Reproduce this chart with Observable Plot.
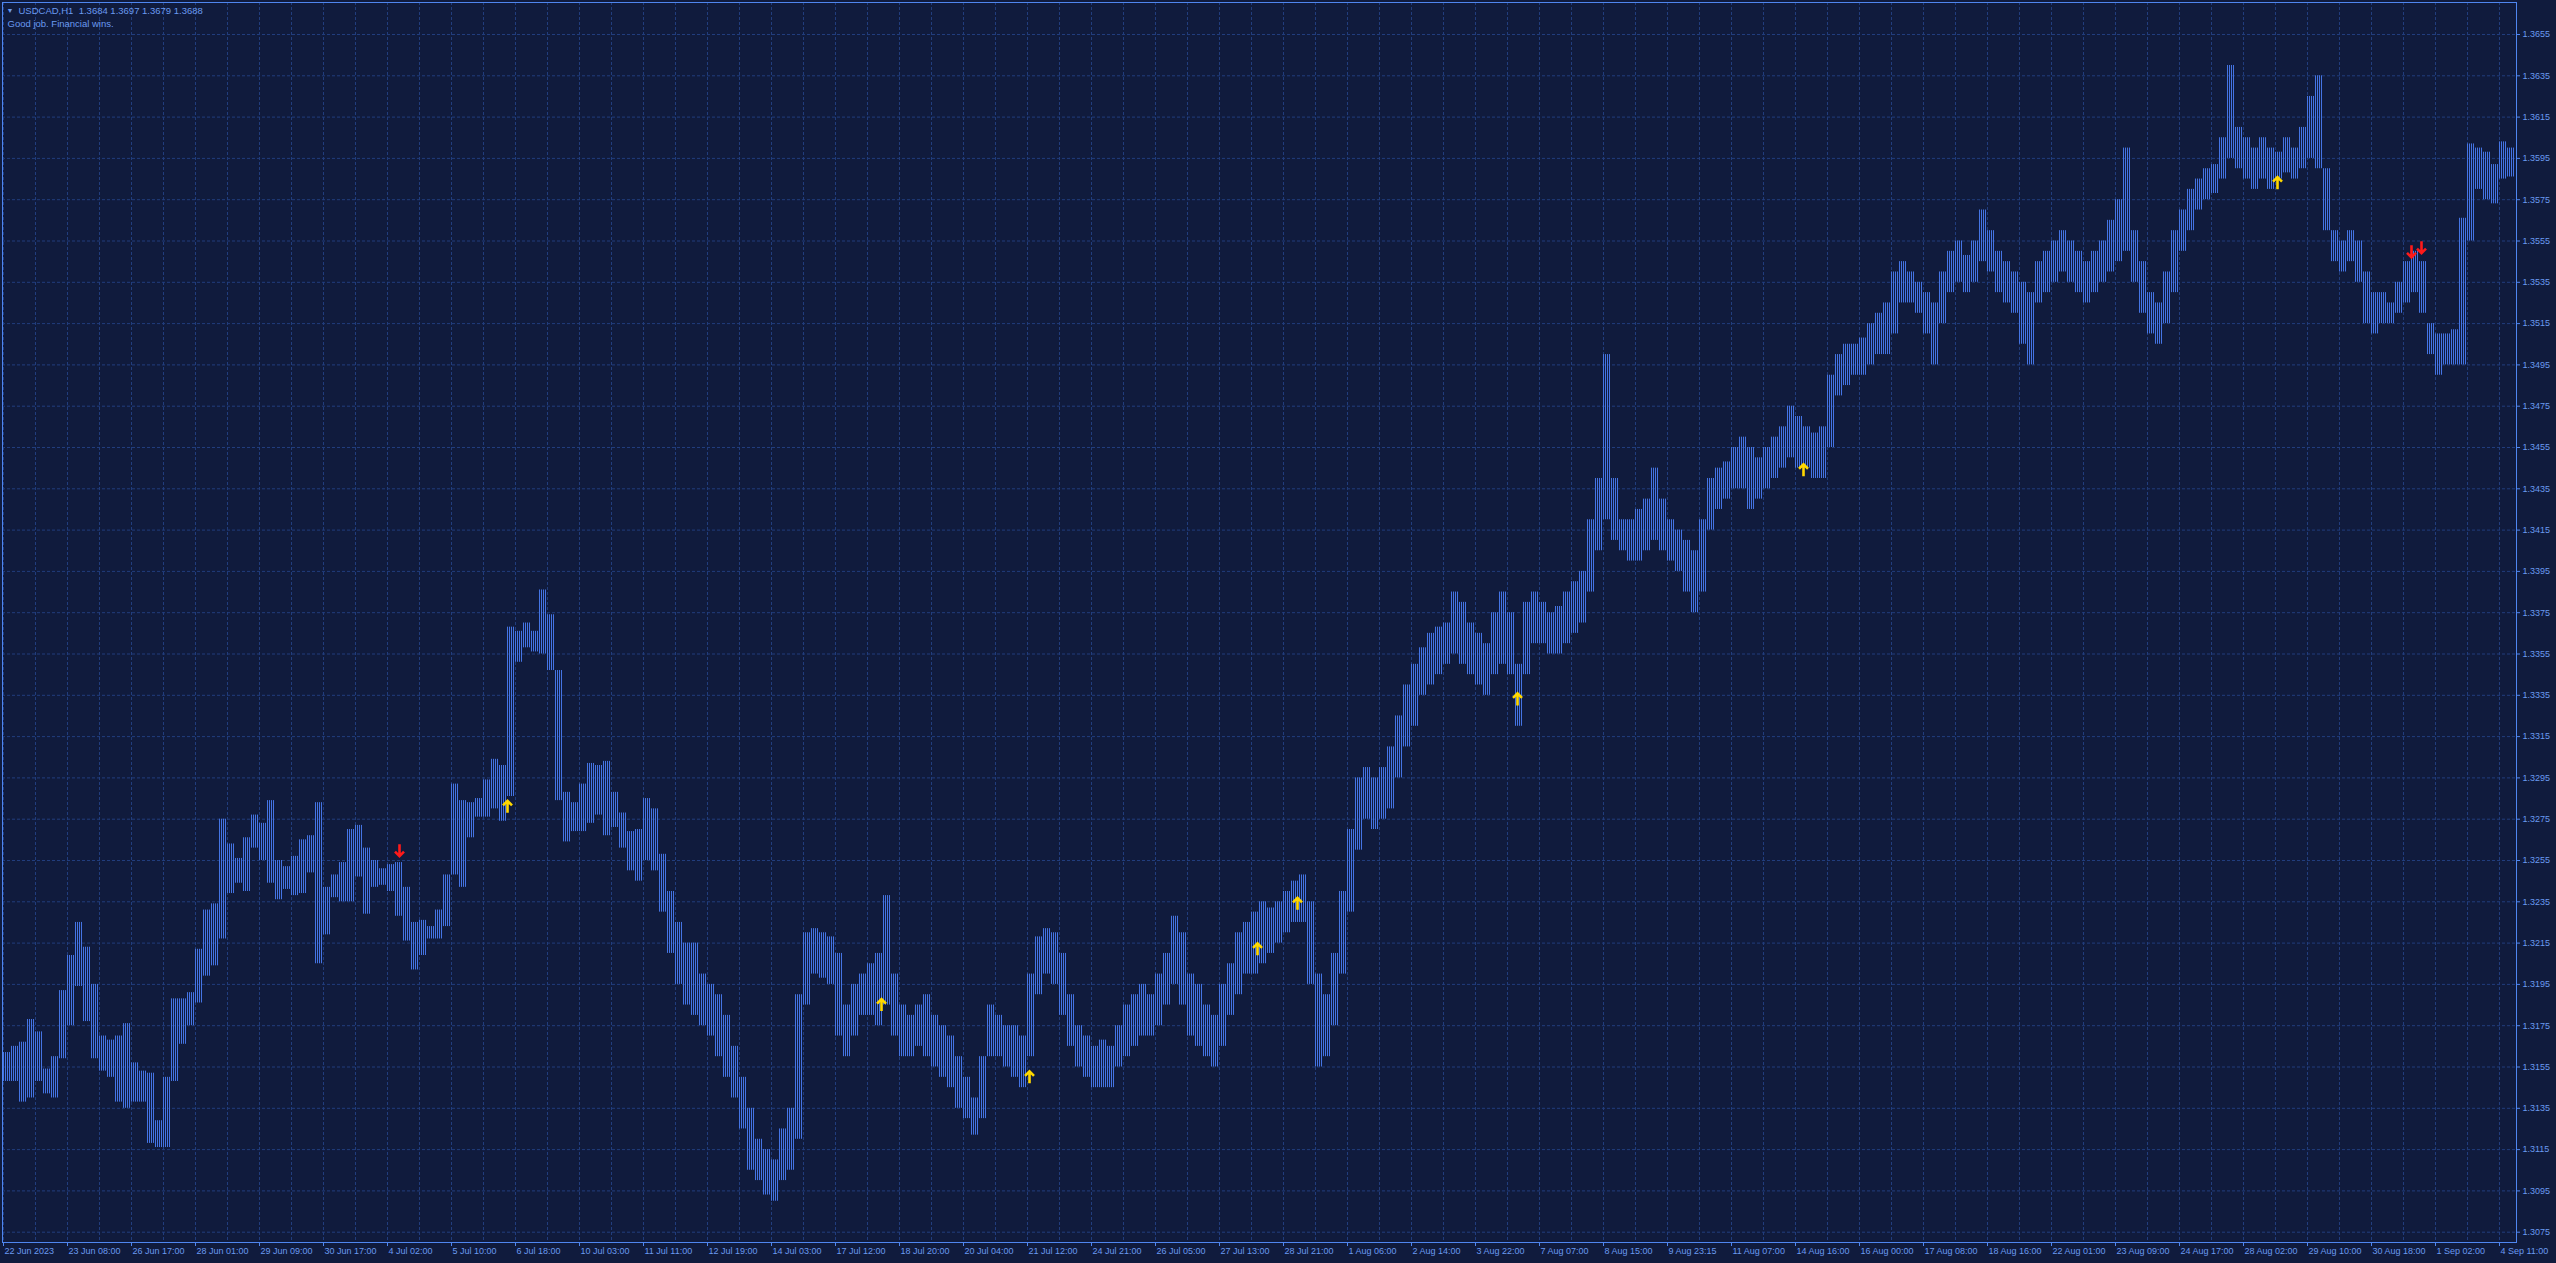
<!DOCTYPE html>
<html><head><meta charset="utf-8">
<script src="https://cdn.jsdelivr.net/npm/d3@7"></script>
<script src="https://cdn.jsdelivr.net/npm/@observablehq/plot@0.6"></script>
<style>
html,body{margin:0;padding:0;background:#101b3d;overflow:hidden;}
#chart{width:2556px;height:1263px;}
</style></head><body><div id="chart"></div>
<script>
// ---- data ----
const symbolTitle = "USDCAD,H1  1.3684 1.3697 1.3679 1.3688";
const subtitle = "Good job. Financial wins.";
const barsPerGroup = 4; // each entry = high/low of 4 consecutive H1 bars

const high = [
1.3162,1.3165,1.3167,1.3178,1.3172,1.3154,1.3160,1.3192,1.3209,1.3225,1.3213,1.3195,1.3170,1.3168,1.3170,1.3176,1.3157,1.3153,1.3152,1.3129,
1.3150,1.3188,1.3188,1.3191,1.3212,1.3231,1.3234,1.3275,1.3263,1.3256,1.3266,1.3277,1.3273,1.3284,1.3255,1.3252,1.3257,1.3265,1.3267,1.3283,
1.3242,1.3248,1.3254,1.3270,1.3272,1.3261,1.3255,1.3251,1.3253,1.3254,1.3242,1.3225,1.3226,1.3223,1.3231,1.3248,1.3292,1.3284,1.3283,1.3285,
1.3294,1.3304,1.3301,1.3368,1.3366,1.3370,1.3366,1.3386,1.3374,1.3347,1.3288,1.3283,1.3292,1.3302,1.3301,1.3303,1.3288,1.3278,1.3269,1.3270,
1.3285,1.3280,1.3258,1.3240,1.3225,1.3215,1.3215,1.3200,1.3195,1.3190,1.3180,1.3165,1.3150,1.3135,1.3120,1.3115,1.3110,1.3125,1.3135,1.3190,
1.3220,1.3222,1.3220,1.3218,1.3210,1.3185,1.3195,1.3200,1.3205,1.3210,1.3238,1.3200,1.3185,1.3180,1.3185,1.3190,1.3180,1.3175,1.3170,1.3160,
1.3150,1.3140,1.3160,1.3185,1.3180,1.3175,1.3175,1.3170,1.3200,1.3218,1.3222,1.3220,1.3210,1.3190,1.3175,1.3170,1.3165,1.3168,1.3165,1.3175,
1.3185,1.3190,1.3195,1.3190,1.3200,1.3210,1.3228,1.3220,1.3200,1.3195,1.3185,1.3180,1.3195,1.3205,1.3220,1.3225,1.3230,1.3235,1.3232,1.3235,
1.3240,1.3245,1.3248,1.3235,1.3200,1.3190,1.3210,1.3240,1.3270,1.3295,1.3300,1.3295,1.3300,1.3310,1.3325,1.3340,1.3350,1.3358,1.3365,1.3368,
1.3370,1.3385,1.3380,1.3370,1.3365,1.3360,1.3375,1.3385,1.3375,1.3350,1.3380,1.3385,1.3380,1.3375,1.3378,1.3385,1.3390,1.3395,1.3420,1.3440,
1.3500,1.3440,1.3420,1.3420,1.3425,1.3430,1.3445,1.3430,1.3420,1.3415,1.3410,1.3405,1.3420,1.3440,1.3445,1.3448,1.3455,1.3460,1.3455,1.3450,
1.3455,1.3460,1.3465,1.3475,1.3470,1.3465,1.3462,1.3465,1.3490,1.3500,1.3505,1.3505,1.3508,1.3515,1.3520,1.3525,1.3540,1.3545,1.3540,1.3535,
1.3530,1.3525,1.3540,1.3550,1.3555,1.3548,1.3555,1.3570,1.3560,1.3550,1.3545,1.3540,1.3535,1.3530,1.3545,1.3550,1.3555,1.3560,1.3555,1.3550,
1.3545,1.3550,1.3555,1.3565,1.3575,1.3600,1.3560,1.3545,1.3530,1.3525,1.3540,1.3560,1.3570,1.3580,1.3585,1.3590,1.3592,1.3605,1.3640,1.3610,
1.3605,1.3600,1.3605,1.3600,1.3598,1.3605,1.3600,1.3610,1.3625,1.3635,1.3590,1.3560,1.3555,1.3560,1.3555,1.3540,1.3530,1.3530,1.3525,1.3535,
1.3545,1.3550,1.3545,1.3515,1.3510,1.3510,1.3512,1.3566,1.3602,1.3600,1.3598,1.3592,1.3603,1.3600
];
const low = [
1.3148,1.3148,1.3138,1.3140,1.3148,1.3142,1.3140,1.3159,1.3175,1.3194,1.3177,1.3159,1.3153,1.3150,1.3138,1.3135,1.3138,1.3138,1.3118,1.3116,
1.3116,1.3148,1.3166,1.3175,1.3186,1.3199,1.3204,1.3217,1.3239,1.3244,1.3240,1.3261,1.3255,1.3244,1.3236,1.3241,1.3238,1.3239,1.3249,1.3205,
1.3219,1.3237,1.3235,1.3235,1.3247,1.3229,1.3242,1.3243,1.3240,1.3228,1.3216,1.3202,1.3209,1.3217,1.3217,1.3223,1.3248,1.3242,1.3266,1.3276,
1.3276,1.3280,1.3274,1.3286,1.3351,1.3358,1.3356,1.3355,1.3347,1.3284,1.3264,1.3269,1.3269,1.3273,1.3277,1.3267,1.3271,1.3261,1.3250,1.3245,
1.3255,1.3250,1.3230,1.3210,1.3195,1.3185,1.3180,1.3175,1.3170,1.3160,1.3150,1.3140,1.3125,1.3105,1.3100,1.3093,1.3090,1.3100,1.3105,1.3120,
1.3185,1.3200,1.3198,1.3195,1.3170,1.3160,1.3170,1.3180,1.3180,1.3175,1.3185,1.3170,1.3160,1.3160,1.3165,1.3160,1.3155,1.3150,1.3145,1.3135,
1.3130,1.3122,1.3130,1.3160,1.3160,1.3155,1.3150,1.3145,1.3160,1.3190,1.3200,1.3195,1.3180,1.3165,1.3155,1.3150,1.3145,1.3145,1.3145,1.3155,
1.3160,1.3165,1.3170,1.3170,1.3175,1.3185,1.3195,1.3185,1.3170,1.3165,1.3160,1.3155,1.3165,1.3180,1.3190,1.3200,1.3200,1.3205,1.3210,1.3215,
1.3220,1.3225,1.3225,1.3195,1.3155,1.3160,1.3175,1.3200,1.3230,1.3260,1.3275,1.3270,1.3275,1.3280,1.3295,1.3310,1.3320,1.3335,1.3340,1.3345,
1.3350,1.3355,1.3350,1.3345,1.3340,1.3335,1.3345,1.3350,1.3345,1.3320,1.3345,1.3360,1.3360,1.3355,1.3355,1.3360,1.3365,1.3370,1.3385,1.3405,
1.3420,1.3410,1.3405,1.3400,1.3400,1.3405,1.3410,1.3405,1.3400,1.3395,1.3385,1.3375,1.3385,1.3415,1.3425,1.3430,1.3435,1.3435,1.3425,1.3430,
1.3435,1.3440,1.3445,1.3450,1.3445,1.3445,1.3440,1.3440,1.3455,1.3480,1.3485,1.3490,1.3490,1.3495,1.3500,1.3500,1.3510,1.3525,1.3525,1.3520,
1.3510,1.3495,1.3515,1.3530,1.3535,1.3530,1.3535,1.3545,1.3540,1.3530,1.3525,1.3520,1.3505,1.3495,1.3525,1.3530,1.3535,1.3540,1.3535,1.3530,
1.3525,1.3530,1.3535,1.3540,1.3545,1.3550,1.3535,1.3520,1.3510,1.3505,1.3515,1.3530,1.3550,1.3560,1.3570,1.3575,1.3578,1.3585,1.3595,1.3590,
1.3585,1.3580,1.3585,1.3580,1.3585,1.3588,1.3585,1.3590,1.3595,1.3590,1.3560,1.3545,1.3540,1.3545,1.3535,1.3515,1.3510,1.3515,1.3515,1.3520,
1.3525,1.3530,1.3520,1.3500,1.3490,1.3495,1.3495,1.3495,1.3555,1.3580,1.3575,1.3573,1.3585,1.3586
];

const xLabels = ["22 Jun 2023","23 Jun 08:00","26 Jun 17:00","28 Jun 01:00","29 Jun 09:00","30 Jun 17:00","4 Jul 02:00","5 Jul 10:00",
"6 Jul 18:00","10 Jul 03:00","11 Jul 11:00","12 Jul 19:00","14 Jul 03:00","17 Jul 12:00","18 Jul 20:00","20 Jul 04:00","21 Jul 12:00",
"24 Jul 21:00","26 Jul 05:00","27 Jul 13:00","28 Jul 21:00","1 Aug 06:00","2 Aug 14:00","3 Aug 22:00","7 Aug 07:00","8 Aug 15:00",
"9 Aug 23:15","11 Aug 07:00","14 Aug 16:00","16 Aug 00:00","17 Aug 08:00","18 Aug 16:00","22 Aug 01:00","23 Aug 09:00","24 Aug 17:00",
"28 Aug 02:00","29 Aug 10:00","30 Aug 18:00","1 Sep 02:00","4 Sep 11:00"];
const barsPerLabel = 32;
const yTicks = [1.3075,1.3095,1.3115,1.3135,1.3155,1.3175,1.3195,1.3215,1.3235,1.3255,1.3275,1.3295,1.3315,1.3335,1.3355,
1.3375,1.3395,1.3415,1.3435,1.3455,1.3475,1.3495,1.3515,1.3535,1.3555,1.3575,1.3595,1.3615,1.3635,1.3655];

const arrowBars   = [198, 252, 439, 513, 627, 647, 757, 900, 1137, 1204, 1209];
const arrowPrices = [1.3260, 1.3281, 1.3185, 1.3150, 1.3212, 1.3234, 1.3333, 1.3444, 1.3583, 1.3550, 1.3552];
const arrowDirs   = ["down","up","up","up","up","up","up","up","up","down","down"];

// ---- styling ----
const BG = "#101b3d", GRID = "#213d7d", AXIS = "#4f86f0", TEXT = "#6a9af0", BAR = "#4474e4";
const YELLOW = "#ffd800", RED = "#ff1a1a";

const groups = high.map((h, k) => ({start: k * barsPerGroup, hi: h, lo: low[k]}));
const nBars = groups.length * barsPerGroup;
const labelIdx = xLabels.map((_, i) => i * barsPerLabel);
const vGrid = d3.range(0, nBars, 16);
const arrows = arrowBars.map((b, i) => ({bar: b, price: arrowPrices[i], dir: arrowDirs[i]}));

const arrowShape = {
  draw(context, l, r) {
    context.moveTo(0, 0);
    context.lineTo(0, -l);
    context.moveTo(-r, -l + r);
    context.lineTo(0, -l);
    context.lineTo(r, -l + r);
  }
};

const chart = Plot.plot({
  width: 2556,
  height: 1263,
  marginLeft: 2, marginTop: 2, marginRight: 40, marginBottom: 21,
  style: {background: BG, color: TEXT, fontFamily: "'Liberation Sans', Arial, sans-serif", fontSize: "9px"},
  x: {type: "linear", domain: [0, nBars + 1], range: [3, 3 + 2 * (nBars + 1)], axis: null, label: null},
  y: {type: "linear", domain: [1.3075, 1.3655], range: [1231.7, 34], axis: null, label: null},
  marks: [
    Plot.gridY(yTicks, {stroke: GRID, strokeOpacity: 1, strokeDasharray: "3,2"}),
    Plot.gridX(vGrid, {stroke: GRID, strokeOpacity: 1, strokeDasharray: "3,2"}),
    Plot.rect(groups, {x1: d => d.start - 0.25, x2: d => d.start + barsPerGroup - 0.5, y1: "lo", y2: "hi", fill: "url(#stripes)"}),
    Plot.vector(arrows.filter(d => d.dir === "up"), {x: "bar", y: "price", length: 12, r: 4.5, rotate: 0, anchor: "middle",
      shape: arrowShape, stroke: YELLOW, strokeWidth: 2.6, strokeLinecap: "butt", strokeLinejoin: "miter"}),
    Plot.vector(arrows.filter(d => d.dir === "down"), {x: "bar", y: "price", length: 12, r: 4.5, rotate: 180, anchor: "middle",
      shape: arrowShape, stroke: RED, strokeWidth: 2.6, strokeLinecap: "butt", strokeLinejoin: "miter"}),
    Plot.frame({stroke: AXIS}),
    Plot.axisY(yTicks, {anchor: "right", label: null, tickSize: 3, tickPadding: 3, tickFormat: d3.format(".4f"), stroke: AXIS, fill: TEXT, fontSize: 9}),
    Plot.axisX(labelIdx, {anchor: "bottom", label: null, tickSize: 4, tickFormat: () => "", stroke: AXIS}),
    Plot.axisX(labelIdx, {anchor: "bottom", label: null, tickSize: 0, tickPadding: 5, tickFormat: d => xLabels[d / barsPerLabel],
      textAnchor: "start", dx: 1, fill: TEXT, fontSize: 9}),
    Plot.text(["\u25BC"], {frameAnchor: "top-left", text: d => d, dx: 4, dy: 6, fill: TEXT, fontSize: 7, textAnchor: "start", lineAnchor: "top"}),
    Plot.text([symbolTitle], {frameAnchor: "top-left", text: d => d, dx: 16, dy: 5, fill: TEXT, fontSize: 9.5, textAnchor: "start", lineAnchor: "top"}),
    Plot.text([subtitle], {frameAnchor: "top-left", text: d => d, dx: 5, dy: 18, fill: TEXT, fontSize: 9.5, textAnchor: "start", lineAnchor: "top"})
  ]
});

document.getElementById("chart").appendChild(chart);

// stripe pattern: one 1px bar every 2px, like the H1 bars of the terminal
const ns = "http://www.w3.org/2000/svg";
const defs = document.createElementNS(ns, "defs");
const pat = document.createElementNS(ns, "pattern");
pat.setAttribute("id", "stripes");
pat.setAttribute("patternUnits", "userSpaceOnUse");
pat.setAttribute("width", "2");
pat.setAttribute("height", "4");
const pr = document.createElementNS(ns, "rect");
pr.setAttribute("y", "0");
pr.setAttribute("width", "1");
pr.setAttribute("height", "4");
pr.setAttribute("fill", BAR);
pat.appendChild(pr);
defs.appendChild(pat);
chart.insertBefore(defs, chart.firstChild);
let e = 0;
const sample = chart.querySelector('[fill="url(#stripes)"] rect') || chart.querySelector('rect[fill="url(#stripes)"]');
if (sample && sample.getCTM) { const m = sample.getCTM(); if (m) e = m.e; }
pr.setAttribute("x", String((((1 - e) % 2) + 2) % 2));
</script>
</body></html>
